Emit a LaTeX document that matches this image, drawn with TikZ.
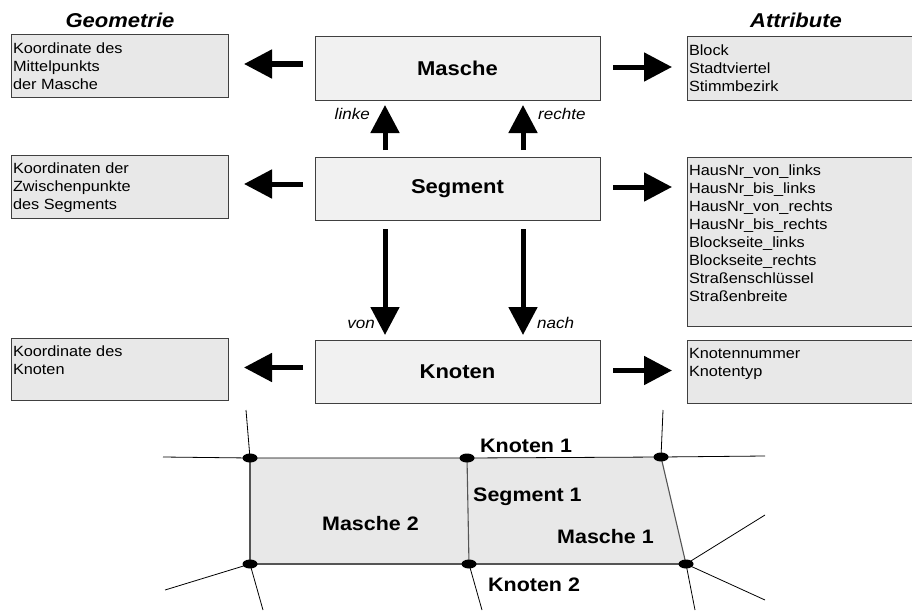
\documentclass[tikz,border=0pt]{standalone}
\usepackage{fontspec}
\setmainfont{Liberation Sans}[FakeStretch=1.1]
\usetikzlibrary{arrows.meta,shapes.geometric,calc}
\definecolor{sidefill}{HTML}{E8E8E8}
\definecolor{midfill}{HTML}{F1F1F1}
\definecolor{mapfill}{HTML}{E8E8E8}
\definecolor{boxline}{HTML}{404040}
\definecolor{mapedge}{HTML}{555555}
\newcommand{\sidetext}[3]{\parbox[c][#1][t]{#2}{\raggedright\rule{0pt}{16pt}#3}}
\tikzset{
  sidebox/.style={draw=boxline, fill=sidefill, line width=1pt, inner sep=2pt, outer sep=0pt,
    anchor=north west, font=\fontsize{14.8}{18}\selectfont},
  midbox/.style={draw=boxline, fill=midfill, line width=1pt, inner sep=0pt, outer sep=0pt,
    anchor=north west, minimum width=285pt, minimum height=63pt,
    font=\fontsize{20}{24}\selectfont\bfseries},
  heading/.style={font=\fontsize{20}{24}\selectfont\bfseries\itshape, inner sep=0pt},
  bigarrow/.style={line width=5pt, -{Triangle[length=28pt,width=28pt]}},
  lbl/.style={font=\fontsize{15.5}{18}\selectfont\itshape, inner sep=0pt},
  maplbl/.style={font=\fontsize{19.5}{23}\selectfont\bfseries, inner sep=0pt, anchor=base west},
  dot/.style={ellipse, fill=black, minimum width=15pt, minimum height=9pt, inner sep=0pt},
  road/.style={line width=0.8pt, black},
  meshedge/.style={line width=1.1pt, mapedge},
}
\begin{document}
\begin{tikzpicture}[x=1pt,y=-1pt]
\useasboundingbox (0,0) rectangle (912,610);

% headings
\node[heading] (hgeo) at (120,20) {Geometrie};
\node[heading] (hatt) at (796,20) {Attribute};

% center boxes
\node[midbox] (masche) at (315,37) {\raisebox{-2.5pt}{Masche}};
\node[midbox] (segment) at (315,157) {\raisebox{-2.5pt}{Segment}};
\node[midbox] (knoten) at (315,340) {\raisebox{-2.5pt}{Knoten}};

% geometry boxes
\node[sidebox] (geo1) at (11,35) {\sidetext{58pt}{213pt}{Koordinate des\\Mittelpunkts\\der Masche}};
\node[sidebox] (geo2) at (11,155) {\sidetext{59pt}{213pt}{Koordinaten der\\Zwischenpunkte\\des Segments}};
\node[sidebox] (geo3) at (11,338) {\sidetext{58pt}{213pt}{Koordinate des\\Knoten}};

% attribute boxes
\node[sidebox] (att1) at (687,37) {\sidetext{59pt}{229pt}{Block\\Stadtviertel\\Stimmbezirk}};
\node[sidebox] (att2) at (687,157) {\sidetext{165pt}{229pt}{HausNr\_von\_links\\HausNr\_bis\_links\\HausNr\_von\_rechts\\HausNr\_bis\_rechts\\Blockseite\_links\\Blockseite\_rechts\\Straßenschlüssel\\Straßenbreite}};
\node[sidebox] (att3) at (687,340) {\sidetext{59pt}{229pt}{Knotennummer\\Knotentyp}};

% horizontal arrows
\draw[bigarrow, shorten <=12pt, shorten >=16pt] ([yshift=4.5pt]masche.west) -- ([yshift=4.5pt]masche.west -| geo1.east);
\draw[bigarrow, shorten <=13pt, shorten >=15pt] ([yshift=1.5pt]masche.east) -- ([yshift=1.5pt]masche.east -| att1.west);
\draw[bigarrow, shorten <=12pt, shorten >=16pt] ([yshift=4.5pt]segment.west) -- ([yshift=4.5pt]segment.west -| geo2.east);
\draw[bigarrow, shorten <=13pt, shorten >=15pt] ([yshift=1.5pt]segment.east) -- ([yshift=1.5pt]segment.east -| att2.west);
\draw[bigarrow, shorten <=12pt, shorten >=16pt] ([yshift=4pt]knoten.west) -- ([yshift=4pt]knoten.west -| geo3.east);
\draw[bigarrow, shorten <=13pt, shorten >=15pt] ([yshift=1pt]knoten.east) -- ([yshift=1pt]knoten.east -| att3.west);

% vertical arrows
\draw[bigarrow, shorten <=7pt, shorten >=5pt] ([xshift=-72.5pt]segment.north) -- ([xshift=-72.5pt]masche.south);
\draw[bigarrow, shorten <=7pt, shorten >=5pt] ([xshift=65.5pt]segment.north) -- ([xshift=65.5pt]masche.south);
\draw[bigarrow, shorten <=9pt, shorten >=5pt] ([xshift=-72.5pt]segment.south) -- ([xshift=-72.5pt]knoten.north);
\draw[bigarrow, shorten <=9pt, shorten >=5pt] ([xshift=65.5pt]segment.south) -- ([xshift=65.5pt]knoten.north);

% arrow labels
\node[lbl, anchor=base east] (llinke) at (370,119) {linke};
\node[lbl, anchor=base west] (lrechte) at (538,119) {rechte};
\node[lbl, anchor=base east] (lvon) at (375,328) {von};
\node[lbl, anchor=base west] (lnach) at (537,328) {nach};

% map
\coordinate (pA) at (250,458);
\coordinate (pB) at (467,458);
\coordinate (pC) at (661,457);
\coordinate (pD) at (250,564);
\coordinate (pE) at (469,564);
\coordinate (pF) at (686,564);
\coordinate (oA1) at (163,457);
\coordinate (oA2) at (246,410);
\coordinate (oC1) at (663,410);
\coordinate (oC2) at (765,456);
\coordinate (oF1) at (765,515);
\coordinate (oF2) at (765,600);
\coordinate (oF3) at (695,610);
\coordinate (oE1) at (482,610);
\coordinate (oD1) at (263,610);
\coordinate (oD2) at (165,590);

\fill[mapfill] (pA) -- (pB) -- (pE) -- (pD) -- cycle;
\fill[mapfill] (pB) -- (pC) -- (pF) -- (pE) -- cycle;

\draw[road] (pA) -- (oA1);
\draw[road] (pA) -- (oA2);
\draw[road] (pC) -- (oC1);
\draw[road] (pC) -- (oC2);
\draw[road] (pF) -- (oF1);
\draw[road] (pF) -- (oF2);
\draw[road] (pF) -- (oF3);
\draw[road] (pE) -- (oE1);
\draw[road] (pD) -- (oD1);
\draw[road] (pD) -- (oD2);

\draw[meshedge] (pA) -- (pD);
\draw[meshedge] (pB) -- (pE);
\draw[meshedge] (pC) -- (pF);
\draw[meshedge] (pD) -- (pE) -- (pF);
\draw[road] (pA) -- (pB) -- (pC);

\node[dot] (nA) at (pA) {};
\node[dot] (nB) at (pB) {};
\node[dot] (nC) at (pC) {};
\node[dot] (nD) at (pD) {};
\node[dot] (nE) at (pE) {};
\node[dot] (nF) at (pF) {};

\node[maplbl] (k1) at (480,452) {Knoten 1};
\node[maplbl] (s1) at (473,501) {Segment 1};
\node[maplbl] (m1) at (557,543) {Masche 1};
\node[maplbl] (k2) at (488,591) {Knoten 2};
\node[maplbl] (m2) at (322,530) {Masche 2};
\end{tikzpicture}
\end{document}
